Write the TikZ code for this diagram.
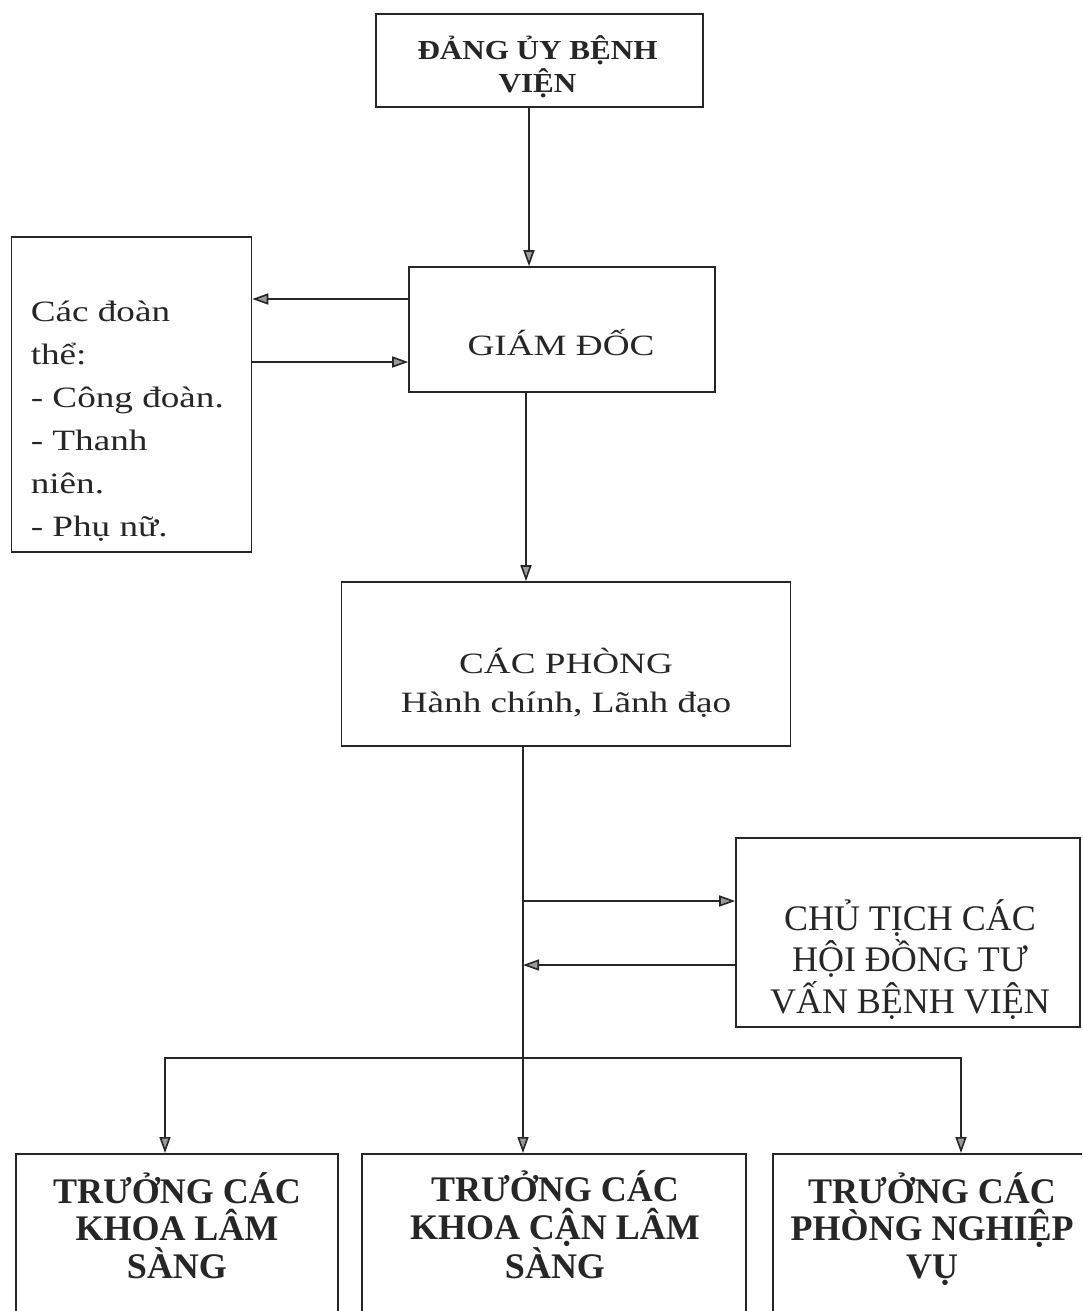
\documentclass[tikz,border=0pt]{standalone}
\usepackage{fontspec}
\setmainfont{Liberation Serif}
\newfontfamily\wideface[FakeStretch=1.26]{Liberation Serif}
\newfontfamily\headface[FakeStretch=1.13]{Liberation Serif}
\usetikzlibrary{arrows.meta}
\definecolor{inkcolor}{HTML}{262626}
\definecolor{tipcolor}{HTML}{9A9A9A}

\begin{document}
\begin{tikzpicture}[x=1pt, y=1pt, line width=1.6pt, color=inkcolor,
  >={Triangle[length=16pt, width=11pt, fill=tipcolor]},
  box/.style={draw, rectangle, inner sep=0pt},
  txt/.style={inner sep=0pt, anchor=base, align=center}]

  % Page
  \useasboundingbox (0,0) rectangle (1082,-1311);
  \fill[white] (0,0) rectangle (1082,-1311);
  \clip (0,0) rectangle (1082,-1311);

  % Columns and rows of the connectors
  \coordinate (upCol) at (529,0);
  \coordinate (midCol) at (526,0);
  \coordinate (spineCol) at (523,0);
  \coordinate (leftCol) at (165,0);
  \coordinate (rightCol) at (961,0);
  \coordinate (toUnions) at (0,-299);
  \coordinate (fromUnions) at (0,-362);
  \coordinate (toCouncil) at (0,-901);
  \coordinate (fromCouncil) at (0,-965);
  \coordinate (busRow) at (0,-1058);

  % TOP: party committee (text placed by its last baseline)
  \node[box, minimum width=327pt, minimum height=93pt] (dangUy) at (539.5,-60.5) {};
  \node[txt, font=\headface\bfseries\fontsize{27.5}{33}\selectfont] (dangUyTxt) at (537.5,-93) {ĐẢNG ỦY BỆNH\\VIỆN};

  % Director
  \node[box, minimum width=306pt, minimum height=125pt] (giamDoc) at (562,-329.5) {};
  \node[txt, font=\wideface\fontsize{29.5}{38}\selectfont] (giamDocTxt) at (561,-355) {GIÁM ĐỐC};

  % Unions, on the left
  \node[box, minimum width=240pt, minimum height=315pt] (doanThe) at (131.5,-394.5) {};
  \node[txt, anchor=base west, align=left, font=\wideface\fontsize{29.5}{43}\selectfont] (doanTheTxt) at (30,-536) {Các đoàn\\thể:\\- Công đoàn.\\- Thanh\\niên.\\- Phụ nữ.};

  % Offices
  \node[box, minimum width=449pt, minimum height=164pt] (cacPhong) at (566,-664) {};
  \node[txt, font=\wideface\fontsize{29.5}{38.5}\selectfont] (cacPhongTxt) at (566,-712) {CÁC PHÒNG\\Hành chính, Lãnh đạo};

  % Councils, on the right
  \node[box, minimum width=344pt, minimum height=189pt] (chuTich) at (908,-932.5) {};
  \node[txt, font=\fontsize{36}{41.5}\selectfont] (chuTichTxt) at (910,-1013) {CHỦ TỊCH CÁC\\HỘI ĐỒNG TƯ\\VẤN BỆNH VIỆN};

  % BOTTOM: heads of departments (cut by the page edge)
  \node[box, anchor=north, minimum width=322pt, minimum height=200pt] (khoaLS) at (177,-1153) {};
  \node[box, anchor=north, minimum width=384pt, minimum height=200pt] (khoaCLS) at (554,-1153) {};
  \node[box, anchor=north, minimum width=330pt, minimum height=200pt] (phongNV) at (938,-1153) {};
  \node[txt, font=\bfseries\fontsize{36}{37.5}\selectfont] (khoaLSTxt) at (177,-1278) {TRƯỞNG CÁC\\KHOA LÂM\\SÀNG};
  \node[txt, font=\bfseries\fontsize{36}{37.5}\selectfont] (khoaCLSTxt) at (555,-1278) {TRƯỞNG CÁC\\KHOA CẬN LÂM\\SÀNG};
  \node[txt, font=\bfseries\fontsize{36}{37.5}\selectfont] (phongNVTxt) at (932,-1278) {TRƯỞNG CÁC\\PHÒNG NGHIỆP\\VỤ};

  % Connectors
  \draw[->] (dangUy.south -| upCol) -- (giamDoc.north -| upCol);
  \draw[->] (giamDoc.west |- toUnions) -- (doanThe.east |- toUnions);
  \draw[->] (doanThe.east |- fromUnions) -- (giamDoc.west |- fromUnions);
  \draw[->] (giamDoc.south -| midCol) -- (cacPhong.north -| midCol);
  \draw[->] (cacPhong.south -| spineCol) -- (khoaCLS.north -| spineCol);
  \draw[->] (spineCol |- toCouncil) -- (chuTich.west |- toCouncil);
  \draw[->] (chuTich.west |- fromCouncil) -- (spineCol |- fromCouncil);
  \draw[->] (busRow -| spineCol) -| (khoaLS.north -| leftCol);
  \draw[->] (busRow -| spineCol) -| (phongNV.north -| rightCol);

\end{tikzpicture}
\end{document}
